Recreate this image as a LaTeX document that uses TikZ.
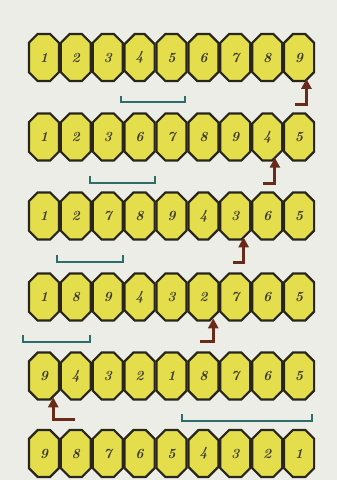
\documentclass[tikz,border=0pt]{standalone}
\usetikzlibrary{shapes.misc,arrows.meta,calc}
\definecolor{bg}{RGB}{236,237,230}
\definecolor{tilefill}{RGB}{228,222,76}
\definecolor{tileline}{RGB}{40,38,28}
\definecolor{digit}{RGB}{62,60,40}
\definecolor{brk}{RGB}{46,110,106}
\definecolor{arr}{RGB}{105,42,26}
\tikzset{
  tile/.style={chamfered rectangle, chamfered rectangle xsep=7.5pt, chamfered rectangle ysep=10pt,
    minimum width=30pt, minimum height=47pt, inner sep=0pt, draw=tileline, line width=2.2pt,
    fill=tilefill, text=digit, font=\fontsize{14}{14}\selectfont\bfseries\itshape},
  bracketline/.style={draw=brk, line width=2pt},
  movearrow/.style={draw=arr, line width=3pt, -{Triangle[length=10pt,width=10pt]}}
}
\begin{document}
\begin{tikzpicture}[x=1pt,y=-1pt]
\useasboundingbox (0,0) rectangle (337,480);
\fill[bg] (0,0) rectangle (337,480);
% rows
\foreach \r/\yy/\lst in {1/57.5/{1,2,3,4,5,6,7,8,9},
                        2/137/{1,2,3,6,7,8,9,4,5},
                        3/216/{1,2,7,8,9,4,3,6,5},
                        4/297/{1,8,9,4,3,2,7,6,5},
                        5/376/{9,4,3,2,1,8,7,6,5},
                        6/453.5/{9,8,7,6,5,4,3,2,1}}{
  \foreach \d [count=\c] in \lst {
    \node[tile] (t\r\c) at ({43.9+31.9*(\c-1)},\yy) {\d};
  }
}
% brackets
\draw[bracketline] (121,96) -- (121,102) -- (185,102) -- (185,96);
\draw[bracketline] (90,176) -- (90,183) -- (155,183) -- (155,176);
\draw[bracketline] (57,255) -- (57,262) -- (123,262) -- (123,255);
\draw[bracketline] (23,335) -- (23,342) -- (90,342) -- (90,335);
\draw[bracketline] (182,414) -- (182,421) -- (312,421) -- (312,414);
% arrows
\coordinate (a1) at (295,104);
\coordinate (e1) at ($(t19.south east)+(-4,1.5)$);
\draw[movearrow] (a1) -| (e1);
\coordinate (a2) at (263,183);
\coordinate (e2) at ($(t28.south east)+(-3,1.5)$);
\draw[movearrow] (a2) -| (e2);
\coordinate (a3) at (233,262);
\coordinate (e3) at ($(t37.south east)+(-3,1.5)$);
\draw[movearrow] (a3) -| (e3);
\coordinate (a4) at (200,341);
\coordinate (e4) at ($(t46.south east)+(-1.5,1.5)$);
\draw[movearrow] (a4) -| (e4);
\coordinate (a5) at (75,419);
\coordinate (e5) at ($(t51.south east)+(-2,1.5)$);
\draw[movearrow] (a5) -| (e5);
\end{tikzpicture}
\end{document}
